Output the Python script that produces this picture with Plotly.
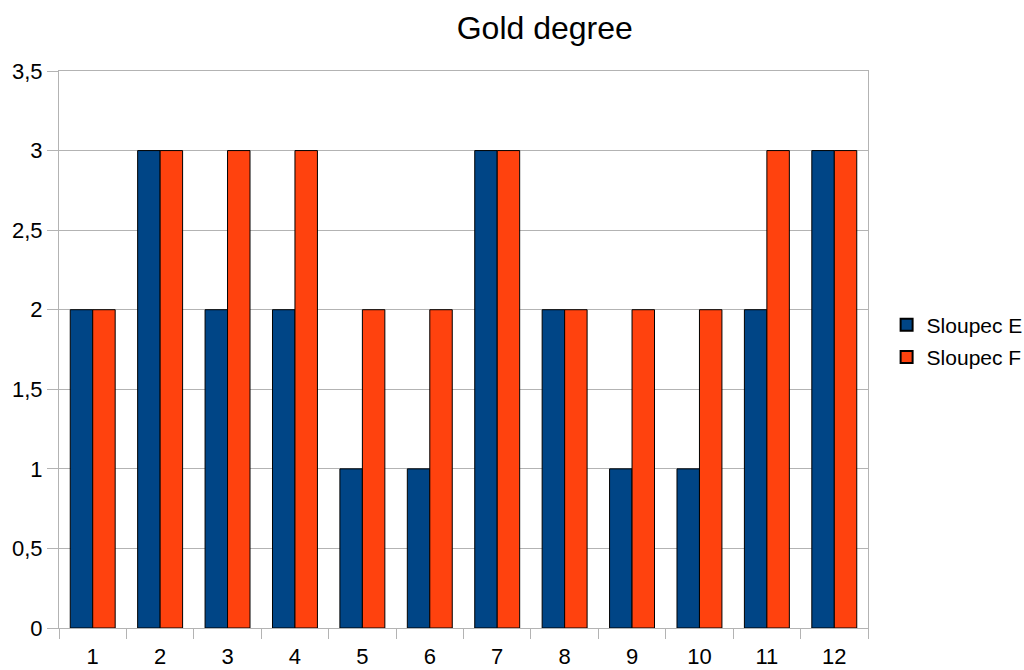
import plotly.graph_objects as go

categories = [str(i) for i in range(1, 13)]
sloupec_e = [2, 3, 2, 2, 1, 1, 3, 2, 1, 1, 2, 3]
sloupec_f = [2, 3, 3, 3, 2, 2, 3, 2, 2, 2, 3, 3]
y_ticks = [0, 0.5, 1, 1.5, 2, 2.5, 3, 3.5]
y_tick_labels = ["0", "0,5", "1", "1,5", "2", "2,5", "3", "3,5"]

fig = go.Figure()
fig.add_trace(go.Bar(x=categories, y=sloupec_e, name="Sloupec E", legendgroup="e",
                     marker=dict(color="#004586", line=dict(color="#000000", width=1))))
fig.add_trace(go.Bar(x=categories, y=sloupec_f, name="Sloupec F", legendgroup="f",
                     marker=dict(color="#ff420e", line=dict(color="#000000", width=1))))

fig.update_layout(
    width=1024, height=670,
    margin=dict(l=59, r=156, t=71, b=42, autoexpand=False),
    paper_bgcolor="white", plot_bgcolor="white",
    font=dict(family="Liberation Sans, Arial, sans-serif", size=22, color="#000000"),
    title=dict(text="Gold degree", x=0.532, xanchor="center", y=0.958, yanchor="middle",
               font=dict(size=32, family="Liberation Sans, Arial, sans-serif")),
    barmode="group", bargap=1/3, bargroupgap=0,
    showlegend=True,
    legend=dict(x=1.023, xanchor="left", y=0.515, yanchor="middle",
                font=dict(size=21), itemsizing="constant",
                traceorder="grouped", tracegroupgap=2),
    xaxis=dict(type="category", showgrid=False, showline=True, linecolor="#b3b3b3",
               mirror=True, ticks="outside", tickson="boundaries", ticklen=10,
               tickcolor="#b3b3b3", ticklabelstandoff=9, automargin=False),
    yaxis=dict(range=[0, 3.5], tickvals=y_ticks, ticktext=y_tick_labels,
               showgrid=True, gridcolor="#b3b3b3", gridwidth=1,
               showline=True, linecolor="#b3b3b3", mirror=True,
               ticks="outside", ticklen=11, tickcolor="#b3b3b3", zeroline=False,
               automargin=False),
)

fig.write_html("out.html", config={"displayModeBar": False},
               post_script="document.body.style.margin='0';")
